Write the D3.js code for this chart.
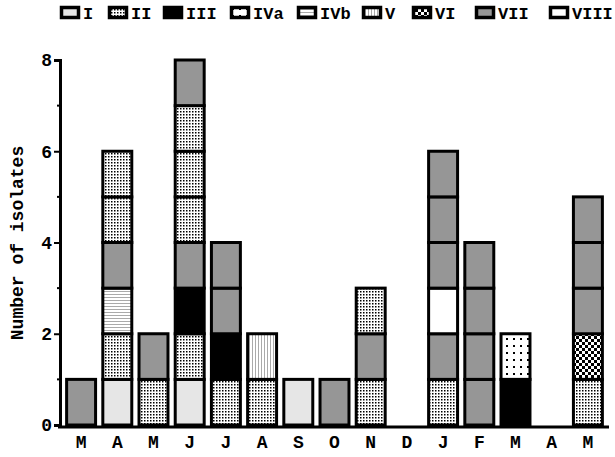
<!DOCTYPE html>
<html lang="en">
<head>
<meta charset="utf-8">
<title>isolates</title>
<script src="https://cdn.jsdelivr.net/npm/d3@7"></script>
<style>
  body { margin: 0; background: #fff; }
  text { font-family: "Liberation Mono", "Courier New", monospace; fill: #000; }
</style>
</head>
<body>
<div id="chart"></div>
<script>
// data
var months = ["M", "A", "M", "J", "J", "A", "S", "O", "N", "D", "J", "F", "M", "A", "M"];
var types = ["I", "II", "III", "IVa", "IVb", "V", "VI", "VII", "VIII"];
// one list per month, isolate types from the bottom of the stack upwards
var stacks = [
  ["VII"],
  ["I", "II", "IVb", "VII", "II", "II"],
  ["II", "VII"],
  ["I", "II", "III", "VII", "II", "II", "II", "VII"],
  ["II", "III", "VII", "VII"],
  ["II", "V"],
  ["I"],
  ["VII"],
  ["II", "VII", "II"],
  [],
  ["II", "VII", "VIII", "VII", "VII", "VII"],
  ["VII", "VII", "VII", "VII"],
  ["III", "IVa"],
  [],
  ["II", "VI", "VII", "VII", "VII"]
];
var yTicks = [0, 2, 4, 6, 8];

var width = 615, height = 457;
var svg = d3.select("#chart").append("svg")
  .attr("width", width).attr("height", height);

// fill patterns
var defs = svg.append("defs");
function pattern(id, w, h) {
  var p = defs.append("pattern").attr("id", id)
    .attr("patternUnits", "userSpaceOnUse").attr("width", w).attr("height", h);
  p.append("rect").attr("width", w).attr("height", h).attr("fill", "#fff");
  return p;
}
pattern("pII", 3, 3).append("rect").attr("width", 1.5).attr("height", 1.5).attr("fill", "#000");
pattern("pIVa", 7, 7).append("rect").attr("x", 2).attr("y", 2).attr("width", 2).attr("height", 2).attr("fill", "#000");
pattern("pIVb", 3, 3).append("rect").attr("width", 3).attr("height", 1).attr("fill", "#aaa");
pattern("pV", 3, 3).append("rect").attr("width", 1).attr("height", 3).attr("fill", "#aaa");
var pvi = pattern("pVI", 6, 6);
pvi.append("rect").attr("width", 3).attr("height", 3).attr("fill", "#000");
pvi.append("rect").attr("x", 3).attr("y", 3).attr("width", 3).attr("height", 3).attr("fill", "#000");

var fills = {
  "I": "#e6e6e6", "II": "url(#pII)", "III": "#000", "IVa": "url(#pIVa)",
  "IVb": "url(#pIVb)", "V": "url(#pV)", "VI": "url(#pVI)", "VII": "#969696", "VIII": "#fff"
};

var x = d3.scaleBand().domain(d3.range(months.length))
  .range([63, 606]).paddingInner(0.2).paddingOuter(0.1);
var y = d3.scaleLinear().domain([0, 8]).range([425, 60]);

// bars
var segs = [];
stacks.forEach(function (s, i) {
  s.forEach(function (t, j) { segs.push({ m: i, k: j, t: t }); });
});
svg.append("g").selectAll("rect").data(segs).enter().append("rect")
  .attr("x", function (d) { return x(d.m); })
  .attr("y", function (d) { return y(d.k + 1); })
  .attr("width", x.bandwidth())
  .attr("height", function (d) { return y(d.k) - y(d.k + 1); })
  .attr("fill", function (d) { return fills[d.t]; })
  .attr("stroke", "#000").attr("stroke-width", 3);

// y axis
var yAxis = svg.append("g").attr("transform", "translate(60,0)")
  .call(d3.axisLeft(y).tickValues(yTicks).tickSize(6).tickPadding(2));
yAxis.select(".domain").attr("stroke-width", 3);
yAxis.selectAll(".tick line").attr("stroke-width", 2);
yAxis.selectAll("text").style("font-size", "18px").style("font-weight", "bold")
  .style("font-family", "Liberation Mono");
yAxis.selectAll(".minor").data([1, 3, 5, 7]).enter().append("line")
  .attr("x1", -3).attr("x2", 0)
  .attr("y1", function (d) { return y(d); }).attr("y2", function (d) { return y(d); })
  .attr("stroke", "#000").attr("stroke-width", 2);

// x axis line and month labels
svg.append("line").attr("x1", 58).attr("x2", 609).attr("y1", 427).attr("y2", 427)
  .attr("stroke", "#000").attr("stroke-width", 3);
svg.append("g").selectAll("text").data(months).enter().append("text")
  .attr("x", function (d, i) { return x(i) + x.bandwidth() / 2; })
  .attr("y", 448)
  .attr("text-anchor", "middle")
  .style("font-size", "18px").style("font-weight", "bold")
  .text(function (d) { return d; });

svg.append("text")
  .attr("transform", "translate(23,243) rotate(-90)")
  .attr("text-anchor", "middle")
  .style("font-size", "18px").style("font-weight", "bold")
  .text("Number of isolates");

// legend
var legX = [60, 108, 163, 230, 297, 362, 412, 475, 549];
var leg = svg.append("g").selectAll("g").data(types).enter().append("g")
  .attr("transform", function (d, i) { return "translate(" + legX[i] + ",6)"; });
leg.append("rect").attr("width", 17).attr("height", 10)
  .attr("x", 1.5).attr("y", 1.5)
  .attr("fill", function (d) { return fills[d]; })
  .attr("stroke", "#000").attr("stroke-width", 3.5);
leg.append("text").attr("x", 23).attr("y", 13)
  .style("font-size", "17px").style("font-weight", "bold")
  .text(function (d) { return d; });
</script>
</body>
</html>
